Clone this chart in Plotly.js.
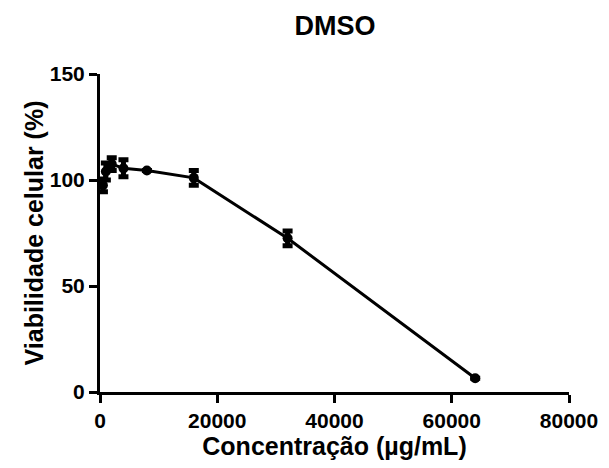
<!DOCTYPE html>
<html>
<head>
<meta charset="utf-8">
<script src="https://cdn.plot.ly/plotly-3.0.1.min.js"></script>
<style>html,body{margin:0;padding:0;background:#fff;}#chart{width:609px;height:468px;}</style>
</head>
<body>
<div id="chart"></div>
<script>
const concentration = [500, 1000, 2000, 4000, 8000, 16000, 32000, 64000];
const viability = [97.5, 104, 107.5, 105.5, 104.5, 101, 72.5, 6.5];
const viabilityErr = [3, 4, 3, 4, 0, 3.5, 3.5, 0];
const xTicks = [0, 20000, 40000, 60000, 80000];
const yTicks = [0, 50, 100, 150];

const FONT = 'Arial, "Liberation Sans", sans-serif';

const trace = {
  x: concentration,
  y: viability,
  type: 'scatter',
  mode: 'lines+markers',
  line: {color: '#000', width: 3},
  marker: {color: '#000', size: 10, symbol: 'circle'},
  error_y: {type: 'data', array: viabilityErr, visible: true, color: '#000', thickness: 5, width: 5},
  cliponaxis: false,
  showlegend: false
};

const axisCommon = {
  showline: true, linecolor: '#000', linewidth: 3,
  ticks: 'outside', ticklen: 8, tickwidth: 3, tickcolor: '#000',
  showgrid: false, zeroline: false,
  tickfont: {family: FONT, size: 21, color: '#000', weight: 'bold'}
};

const layout = {
  width: 609, height: 468,
  margin: {l: 100, r: 40, t: 74, b: 76},
  paper_bgcolor: '#fff', plot_bgcolor: '#fff',
  title: {text: 'DMSO', x: 0.55, xanchor: 'center', y: 0.945, yanchor: 'middle',
          font: {family: FONT, size: 27, color: '#000', weight: 'bold'}},
  xaxis: Object.assign({}, axisCommon, {
    range: [0, 80000], tickvals: xTicks, ticktext: xTicks.map(String),
    title: {text: 'Concentração (µg/mL)', standoff: 0,
            font: {family: FONT, size: 25, color: '#000', weight: 'bold'}}
  }),
  yaxis: Object.assign({}, axisCommon, {
    range: [0, 150], tickvals: yTicks, ticktext: yTicks.map(String),
    title: {text: 'Viabilidade celular (%)', standoff: 0,
            font: {family: FONT, size: 25, color: '#000', weight: 'bold'}}
  })
};

Plotly.newPlot('chart', [trace], layout, {staticPlot: true, displayModeBar: false});
</script>
</body>
</html>
